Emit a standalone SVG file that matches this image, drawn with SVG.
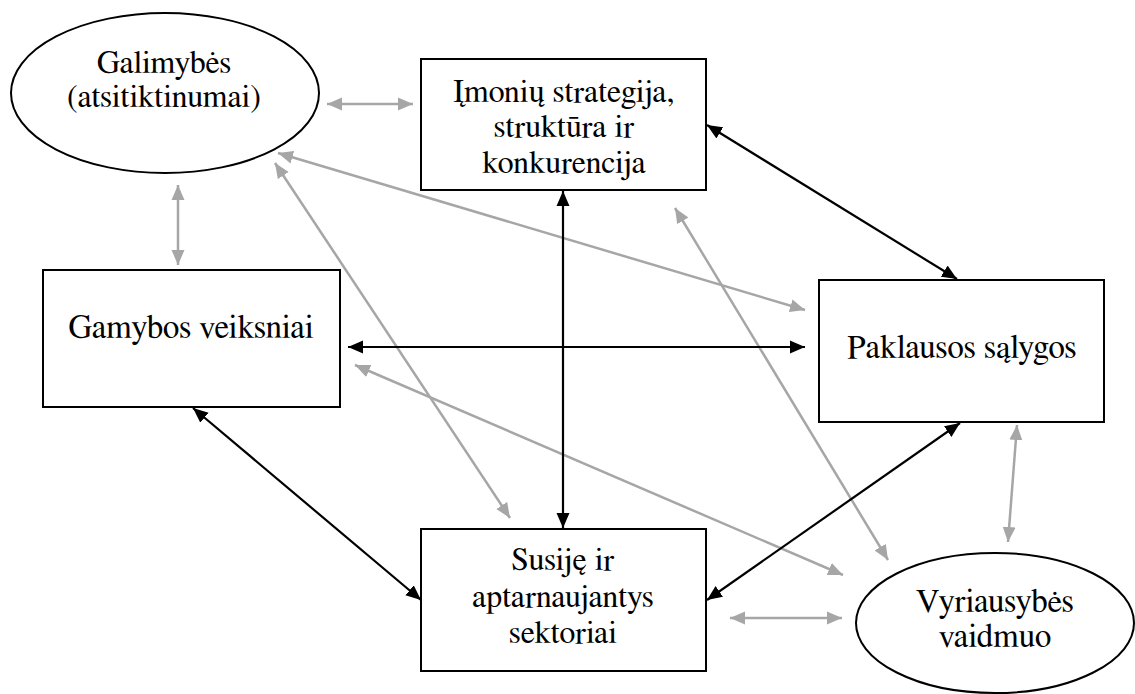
<svg xmlns="http://www.w3.org/2000/svg" width="1135" height="694" viewBox="0 0 1135 694">
  <style>
    .node { fill: #ffffff; stroke: #000000; stroke-width: 2; }
    .label { font-family: FreeSerif, 'Liberation Serif', 'Noto Serif', serif; font-size: 32px; fill: #000000; text-anchor: middle; }
    .large { font-size: 33px; }
    .strong { fill: none; stroke: #000000; stroke-width: 2.2; marker-start: url(#headBlack); marker-end: url(#headBlack); }
    .weak { fill: none; stroke: #a6a6a6; stroke-width: 2.5; marker-start: url(#headGray); marker-end: url(#headGray); }
  </style>
  <defs>
    <marker id="headBlack" markerUnits="userSpaceOnUse" markerWidth="16" markerHeight="14" refX="15" refY="6.5" orient="auto-start-reverse" viewBox="0 0 16 13">
      <path d="M0,0 L15,6.5 L0,13 Z" fill="#000000"/>
    </marker>
    <marker id="headGray" markerUnits="userSpaceOnUse" markerWidth="16" markerHeight="14" refX="15" refY="6.5" orient="auto-start-reverse" viewBox="0 0 16 13">
      <path d="M0,0 L15,6.5 L0,13 Z" fill="#a6a6a6"/>
    </marker>
  </defs>

  <rect width="1135" height="694" fill="#ffffff"/>

  <!-- connectors -->
  <g id="connectors">
    <!-- grey: chance and government links -->
    <line class="weak" x1="327" y1="104" x2="413" y2="104"/>
    <line class="weak" x1="178" y1="185" x2="178" y2="265"/>
    <line class="weak" x1="278" y1="153" x2="805" y2="310"/>
    <line class="weak" x1="275" y1="163" x2="510" y2="518"/>
    <line class="weak" x1="675" y1="208" x2="888" y2="560"/>
    <line class="weak" x1="355" y1="365" x2="843" y2="575"/>
    <line class="weak" x1="1017" y1="425" x2="1008" y2="542"/>
    <line class="weak" x1="730" y1="618" x2="842" y2="618"/>
    <!-- black: diamond core links -->
    <line class="strong" x1="563" y1="191" x2="563" y2="528"/>
    <line class="strong" x1="348" y1="347" x2="805" y2="347"/>
    <line class="strong" x1="707" y1="125" x2="957" y2="279"/>
    <line class="strong" x1="193" y1="408" x2="421" y2="600"/>
    <line class="strong" x1="960" y1="423" x2="707" y2="600"/>
  </g>

  <g id="galimybes">
    <ellipse class="node" cx="165" cy="93" rx="154" ry="80"/>
    <text class="label" x="164" y="73">Galimybės</text>
    <text class="label" x="164" y="107">(atsitiktinumai)</text>
  </g>

  <g id="imoniu-strategija">
    <rect class="node" x="421" y="59" width="285" height="131"/>
    <text class="label" x="564" y="102">Įmonių strategija,</text>
    <text class="label" x="564" y="137">struktūra ir</text>
    <text class="label" x="564" y="173">konkurencija</text>
  </g>

  <g id="gamybos-veiksniai">
    <rect class="node" x="43" y="270" width="297" height="137"/>
    <text class="label large" x="191" y="338">Gamybos veiksniai</text>
  </g>

  <g id="paklausos-salygos">
    <rect class="node" x="819" y="280" width="285" height="142"/>
    <text class="label large" x="962" y="358">Paklausos sąlygos</text>
  </g>

  <g id="susije-sektoriai">
    <rect class="node" x="421" y="529" width="285" height="142"/>
    <text class="label" x="563" y="570">Susiję ir</text>
    <text class="label" x="563" y="607">aptarnaujantys</text>
    <text class="label" x="563" y="643">sektoriai</text>
  </g>

  <g id="vyriausybes-vaidmuo">
    <ellipse class="node" cx="995" cy="623" rx="139" ry="70"/>
    <text class="label large" x="995" y="612">Vyriausybės</text>
    <text class="label large" x="995" y="647">vaidmuo</text>
  </g>
</svg>
